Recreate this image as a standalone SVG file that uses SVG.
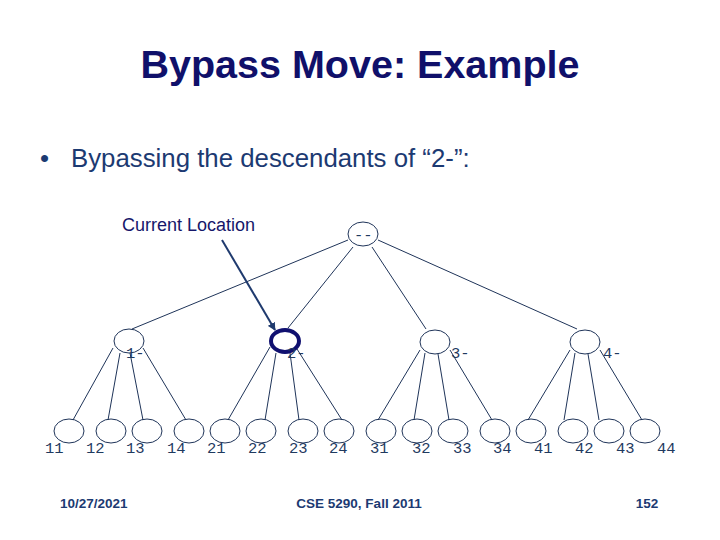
<svg xmlns="http://www.w3.org/2000/svg" width="720" height="540" viewBox="0 0 720 540">
<style>
.title{font-family:"Liberation Sans",Arial,sans-serif;font-weight:bold;font-size:39.5px;fill:#10106A}
.body{font-family:"Liberation Sans",Arial,sans-serif;font-size:25.8px;fill:#1C3A72}
.call{font-family:"Liberation Sans",Arial,sans-serif;font-size:18px;fill:#16166A}
.foot{font-family:"Liberation Sans",Arial,sans-serif;font-weight:bold;font-size:13.5px;fill:#1C3A72}
.lbl{font-family:"Liberation Mono","Courier New",monospace;font-size:15.5px;fill:#1F3A5F}
.nd{fill:none;stroke:#1F3459;stroke-width:1}
.cur{fill:none;stroke:#101070;stroke-width:4}
.edges line{stroke:#1F3459;stroke-width:1}
</style>
<defs>
<marker id="ah" viewBox="0 0 10 10" refX="9" refY="5" markerWidth="4" markerHeight="4" orient="auto" markerUnits="strokeWidth">
<path d="M0,0 L10,5 L0,10 z" fill="#1F3A6E"/>
</marker>
</defs>
<rect width="720" height="540" fill="#ffffff"/>
<text class="title" x="360" y="78" text-anchor="middle">Bypass Move: Example</text>
<text class="body" x="40" y="167">•</text>
<text class="body" x="71" y="167">Bypassing the descendants of “2-”:</text>
<text class="call" x="122" y="231">Current Location</text>

<g class="edges" id="connectors">
<line x1="348" y1="240" x2="132" y2="329"/>
<line x1="353" y1="247" x2="288" y2="328"/>
<line x1="372" y1="247" x2="426" y2="329"/>
<line x1="378" y1="240" x2="577" y2="329"/>
<line x1="113" y1="348" x2="73" y2="420"/>
<line x1="120" y1="353" x2="108" y2="420"/>
<line x1="130" y1="353" x2="143" y2="420"/>
<line x1="143" y1="348" x2="186" y2="420"/>
<line x1="270" y1="347" x2="228" y2="420"/>
<line x1="276" y1="353" x2="265" y2="420"/>
<line x1="290" y1="353" x2="299" y2="420"/>
<line x1="297" y1="349" x2="342" y2="420"/>
<line x1="420" y1="350" x2="378" y2="420"/>
<line x1="425" y1="353" x2="414" y2="420"/>
<line x1="438" y1="354" x2="449" y2="420"/>
<line x1="450" y1="350" x2="492" y2="420"/>
<line x1="570" y1="350" x2="528" y2="420"/>
<line x1="575" y1="353" x2="564" y2="420"/>
<line x1="588" y1="354" x2="599" y2="420"/>
<line x1="600" y1="350" x2="642" y2="420"/>
<line x1="222" y1="240" x2="275" y2="330" style="stroke:#1F3A6E;stroke-width:2" marker-end="url(#ah)"/>
</g>

<g id="n-root"><ellipse class="nd" cx="363" cy="234" rx="15" ry="12"/><text class="lbl" x="354" y="240">--</text></g>
<g id="n-1"><ellipse class="nd" cx="129" cy="341" rx="15" ry="12"/><text class="lbl" x="126" y="358">1-</text></g>
<g id="n-2"><ellipse class="cur" cx="285" cy="341" rx="14" ry="11"/><text class="lbl" x="287" y="358">2-</text></g>
<g id="n-3"><ellipse class="nd" cx="435" cy="342" rx="15" ry="12"/><text class="lbl" x="451" y="358">3-</text></g>
<g id="n-4"><ellipse class="nd" cx="585" cy="342" rx="15" ry="12"/><text class="lbl" x="603" y="358">4-</text></g>

<g id="n-11"><ellipse class="nd" cx="69" cy="431" rx="15" ry="12"/><text class="lbl" x="45" y="453">11</text></g>
<g id="n-12"><ellipse class="nd" cx="111" cy="431" rx="15" ry="12"/><text class="lbl" x="86" y="453">12</text></g>
<g id="n-13"><ellipse class="nd" cx="147" cy="431" rx="15" ry="12"/><text class="lbl" x="126" y="453">13</text></g>
<g id="n-14"><ellipse class="nd" cx="189" cy="431" rx="15" ry="12"/><text class="lbl" x="167" y="453">14</text></g>
<g id="n-21"><ellipse class="nd" cx="225" cy="431" rx="15" ry="12"/><text class="lbl" x="207" y="453">21</text></g>
<g id="n-22"><ellipse class="nd" cx="261" cy="431" rx="15" ry="12"/><text class="lbl" x="248" y="453">22</text></g>
<g id="n-23"><ellipse class="nd" cx="303" cy="431" rx="15" ry="12"/><text class="lbl" x="289" y="453">23</text></g>
<g id="n-24"><ellipse class="nd" cx="339" cy="431" rx="15" ry="12"/><text class="lbl" x="329" y="453">24</text></g>
<g id="n-31"><ellipse class="nd" cx="381" cy="431" rx="15" ry="12"/><text class="lbl" x="370" y="453">31</text></g>
<g id="n-32"><ellipse class="nd" cx="417" cy="431" rx="15" ry="12"/><text class="lbl" x="412" y="453">32</text></g>
<g id="n-33"><ellipse class="nd" cx="453" cy="431" rx="15" ry="12"/><text class="lbl" x="453" y="453">33</text></g>
<g id="n-34"><ellipse class="nd" cx="495" cy="431" rx="15" ry="12"/><text class="lbl" x="493" y="453">34</text></g>
<g id="n-41"><ellipse class="nd" cx="531" cy="431" rx="15" ry="12"/><text class="lbl" x="534" y="453">41</text></g>
<g id="n-42"><ellipse class="nd" cx="573" cy="431" rx="15" ry="12"/><text class="lbl" x="575" y="453">42</text></g>
<g id="n-43"><ellipse class="nd" cx="609" cy="431" rx="15" ry="12"/><text class="lbl" x="616" y="453">43</text></g>
<g id="n-44"><ellipse class="nd" cx="645" cy="431" rx="15" ry="12"/><text class="lbl" x="657" y="453">44</text></g>

<text class="foot" x="60" y="508">10/27/2021</text>
<text class="foot" x="359" y="508" text-anchor="middle">CSE 5290, Fall 2011</text>
<text class="foot" x="647" y="508" text-anchor="middle">152</text>
</svg>
